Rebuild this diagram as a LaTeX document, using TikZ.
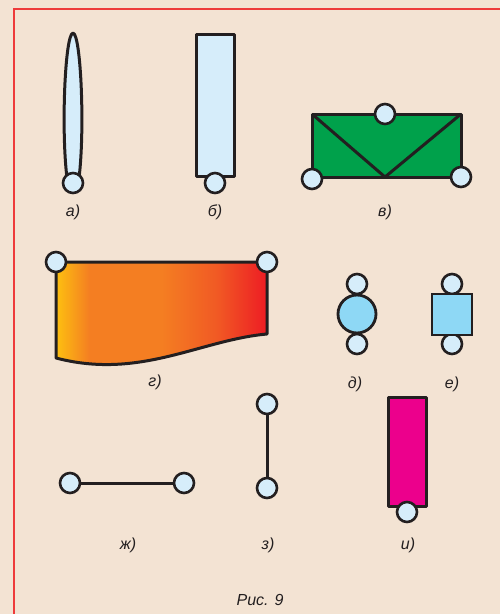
\documentclass[tikz,border=0pt]{standalone}
\usepackage{fontspec}
\setmainfont{Liberation Sans}
\usepackage{xcolor}
\usepackage{tikz}
\usetikzlibrary{positioning}
\definecolor{paper}{HTML}{F3E3D3}
\definecolor{frame}{HTML}{EE3B3B}
\definecolor{ink}{HTML}{231F20}
\definecolor{pale}{HTML}{D6EDFA}
\definecolor{sky}{HTML}{8ED8F5}
\definecolor{leaf}{HTML}{00A14B}
\definecolor{plum}{HTML}{EC008C}
\definecolor{gyellow}{HTML}{FDC010}
\definecolor{gorange}{HTML}{F47E22}
\definecolor{gdeep}{HTML}{F15A24}
\definecolor{gred}{HTML}{ED1C24}
\pgfdeclarehorizontalshading{heat}{100bp}{color(0bp)=(gyellow);
  color(25bp)=(gyellow); color(33bp)=(gorange); color(50bp)=(gorange);
  color(63bp)=(gdeep); color(75bp)=(gred); color(100bp)=(gred)}

\tikzset{
  hinge/.style={circle, draw=ink, fill=pale, line width=2.6pt,
                minimum size=20pt, inner sep=0pt},
  body/.style={draw=ink, line width=3pt, line join=round},
  rod/.style={draw=ink, line width=3pt},
  tag/.style={font=\itshape\fontsize{16}{19}\selectfont, text=ink}
}

\begin{document}
\begin{tikzpicture}[x=1pt, y=-1pt]
  \fill[paper] (0,0) rectangle (500,614);
  \useasboundingbox (0,0) rectangle (500,614);
  \draw[frame, line width=1.2pt] (14,614) -- (14,9) -- (500,9);

  % a) thin lens
  \draw[body, fill=pale] (73,33) .. controls (65,34) and (61,130) .. (67,178)
    -- (79,178) .. controls (85,130) and (81,34) .. (73,33) -- cycle;
  \node[hinge] (a1) at (73,183) {};
  \node[tag] (la) at (73,212) {а)};

  % b) bar
  \draw[body, fill=pale] (196,34) rectangle (234,176);
  \node[hinge] (b1) at (215,183) {};
  \node[tag] (lb) at (215,212) {б)};

  % v) truss
  \draw[body, fill=leaf] (312,114) rectangle (461,177);
  \draw[body] (312,114) -- (385,177) -- (461,114);
  \node[hinge] (v1) at (385,114) {};
  \node[hinge] (v2) at (312,179) {};
  \node[hinge] (v3) at (461,177) {};
  \node[tag] (lv) at (385,212) {в)};

  % g) plate
  \draw[body, shading=heat]
    (56,262) -- (267,262) -- (267,334)
    .. controls (200,340) and (140,380) .. (56,358) -- cycle;
  \node[hinge] (g1) at (56,262) {};
  \node[hinge] (g2) at (267,262) {};
  \node[tag] (lg) at (155,382) {г)};

  % d) disc
  \node[hinge] (d1) at (357,284) {};
  \node[hinge] (d2) at (357,344) {};
  \node[circle, draw=ink, fill=sky, line width=2.8pt, minimum size=38pt,
        inner sep=0pt] (d0) at (357,314) {};
  \node[tag] (ld) at (355,384) {д)};

  % e) block
  \node[hinge] (e1) at (452,284) {};
  \node[hinge] (e2) at (452,344) {};
  \node[draw=ink, fill=sky, line width=2.8pt, minimum width=40pt,
        minimum height=41pt, inner sep=0pt] (e0) at (452,314.5) {};
  \node[tag] (le) at (452,384) {е)};

  % zh) horizontal link
  \node[hinge] (zh1) at (70,483) {};
  \node[hinge] (zh2) at (184,483) {};
  \draw[rod] (zh1) -- (zh2);
  \node[tag] (lzh) at (128,545) {ж)};

  % z) vertical link
  \node[hinge] (z1) at (267,404) {};
  \node[hinge] (z2) at (267,488) {};
  \draw[rod] (z1) -- (z2);
  \node[tag] (lz) at (268,545) {з)};

  % i) column
  \draw[body, fill=plum] (388,397) rectangle (426,506);
  \node[hinge] (i1) at (407,512) {};
  \node[tag] (li) at (408,545) {и)};

  \node[tag] (cap) at (260,600) {Рис. 9};
\end{tikzpicture}
\end{document}
